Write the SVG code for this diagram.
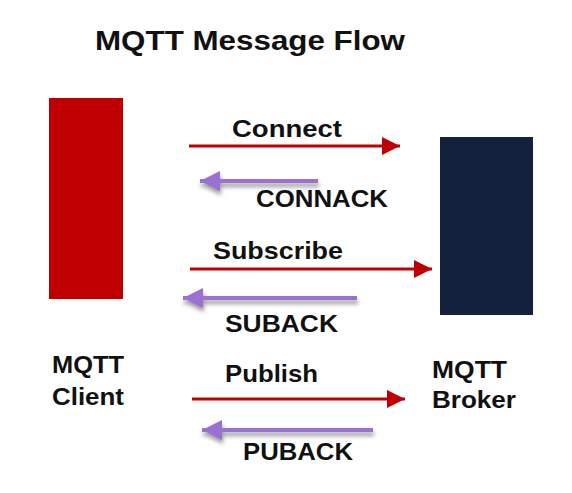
<svg xmlns="http://www.w3.org/2000/svg" width="572" height="493" viewBox="0 0 572 493">
<style>
text{font-family:"Liberation Sans",Arial,sans-serif;font-weight:bold;fill:#111}
.lbl{font-size:24px}
.req{stroke:#c00000;stroke-width:3;fill:none}
.ack{stroke:#9b6fd3;stroke-width:4;fill:none}
</style>
<defs>
<marker id="redHead" markerWidth="6" markerHeight="6" refX="6" refY="3" orient="auto" markerUnits="strokeWidth"><path d="M0,0 L6,3 L0,6 Z" fill="#c00000"/></marker>
<marker id="purpleHead" markerWidth="5" markerHeight="5" refX="5" refY="2.5" orient="auto" markerUnits="strokeWidth"><path d="M0,0 L5,2.5 L0,5 Z" fill="#9b6fd3"/></marker>
<filter id="shadow" filterUnits="userSpaceOnUse" x="0" y="0" width="572" height="493"><feDropShadow dx="1" dy="4" stdDeviation="2" flood-color="#555" flood-opacity="0.6"/></filter>
</defs>
<rect width="572" height="493" fill="#ffffff"/>
<text x="95" y="50" font-size="28" textLength="310" lengthAdjust="spacingAndGlyphs">MQTT Message Flow</text>
<g id="client">
<rect x="49" y="98" width="74" height="201" fill="#c00000"/>
<text class="lbl" x="52" y="373" textLength="72" lengthAdjust="spacingAndGlyphs">MQTT</text>
<text class="lbl" x="52" y="405" textLength="72" lengthAdjust="spacingAndGlyphs">Client</text>
</g>
<g id="broker">
<rect x="440" y="137" width="93" height="178" fill="#13213c"/>
<text class="lbl" x="432" y="378" textLength="75" lengthAdjust="spacingAndGlyphs">MQTT</text>
<text class="lbl" x="432" y="408" textLength="84" lengthAdjust="spacingAndGlyphs">Broker</text>
</g>
<g id="connectors">
<line class="req" x1="189" y1="146" x2="400" y2="146" marker-end="url(#redHead)"/>
<line class="ack" x1="318" y1="181" x2="200" y2="181" marker-end="url(#purpleHead)" filter="url(#shadow)"/>
<line class="req" x1="190" y1="269" x2="432" y2="269" marker-end="url(#redHead)"/>
<line class="ack" x1="357" y1="298" x2="183" y2="298" marker-end="url(#purpleHead)" filter="url(#shadow)"/>
<line class="req" x1="192" y1="399" x2="405" y2="399" marker-end="url(#redHead)"/>
<line class="ack" x1="373" y1="430" x2="202" y2="430" marker-end="url(#purpleHead)" filter="url(#shadow)"/>
<text class="lbl" x="232" y="137" textLength="110" lengthAdjust="spacingAndGlyphs">Connect</text>
<text class="lbl" x="256" y="207" textLength="132" lengthAdjust="spacingAndGlyphs">CONNACK</text>
<text class="lbl" x="213" y="259" textLength="130" lengthAdjust="spacingAndGlyphs">Subscribe</text>
<text class="lbl" x="225" y="332" textLength="113" lengthAdjust="spacingAndGlyphs">SUBACK</text>
<text class="lbl" x="225" y="382" textLength="93" lengthAdjust="spacingAndGlyphs">Publish</text>
<text class="lbl" x="243" y="460" textLength="110" lengthAdjust="spacingAndGlyphs">PUBACK</text>
</g>
</svg>
